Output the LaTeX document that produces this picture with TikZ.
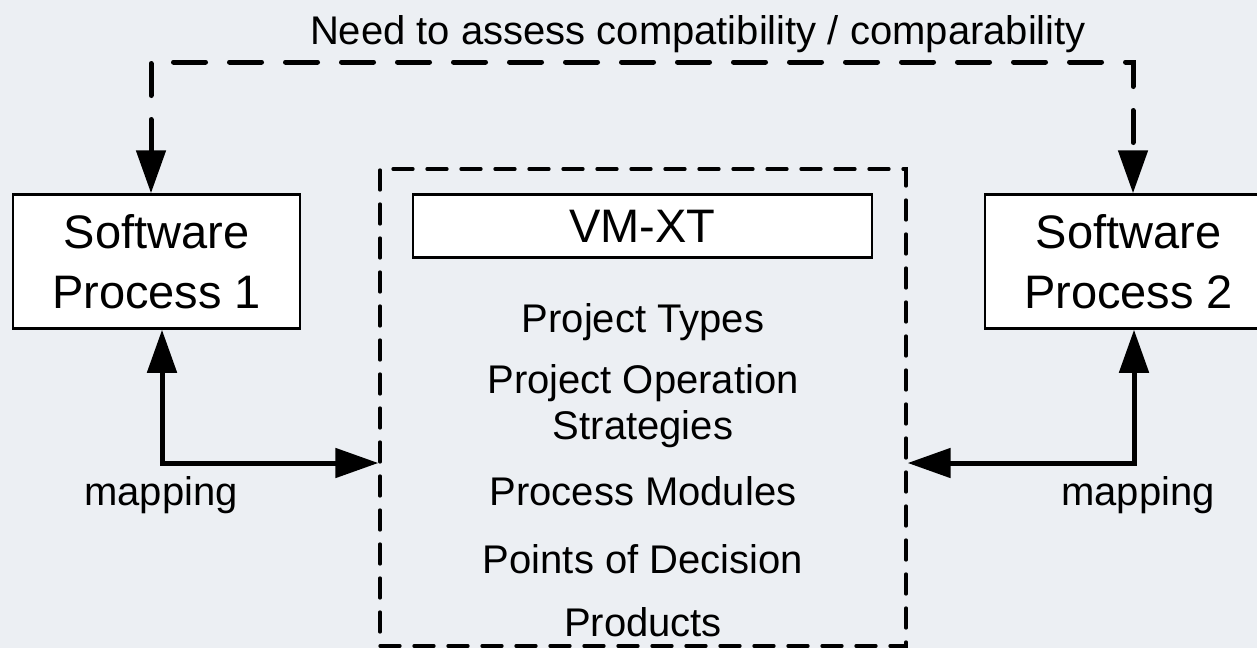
\documentclass[tikz,border=0pt]{standalone}
\usepackage{fontspec}
\setmainfont{Liberation Sans}
\usetikzlibrary{arrows.meta}
\definecolor{bgc}{RGB}{236,239,243}
\tikzset{
  txt/.style={anchor=base, inner sep=0pt, font=\fontsize{40}{46}\selectfont},
  procbox/.style={draw=black, line width=2.5pt, fill=white, minimum width=287pt, minimum height=134pt, inner sep=0pt, align=center, font=\fontsize{47}{60}\selectfont},
  vmbox/.style={draw=black, line width=2.5pt, fill=white, minimum width=459pt, minimum height=63pt, inner sep=0pt, font=\fontsize{47}{56}\selectfont},
  groupbox/.style={draw=black, line width=3.3pt, dash pattern=on 20pt off 14pt, line cap=round, minimum width=526pt, minimum height=477pt, inner sep=0pt},
  conn/.style={line width=5pt, {Triangle[length=43pt,width=29pt]}-{Triangle[length=43pt,width=29pt]}},
  dconn/.style={conn, dash pattern=on 32pt off 24pt, line cap=round},
}
\begin{document}
\begin{tikzpicture}[x=1pt,y=-1pt]
\fill[bgc] (0,0) rectangle (1257,648);
\clip (0,0) rectangle (1257,648);
\node[procbox] (sp1) at (156.5,261.5) {Software\\Process 1};
\node[procbox] (sp2) at (1128.5,261.5) {Software\\Process 2};
\node[groupbox] (grp) at (643,407.5) {};
\node[vmbox] (vm) at (642.5,226) {VM-XT};
\node[txt] (title) at (698,44) {Need to assess compatibility / comparability};
\node[txt] (t1) at (643,332) {Project Types};
\node[txt] (t2) at (643,393) {Project Operation};
\node[txt] (t3) at (643,439) {Strategies};
\node[txt] (t4) at (643,505) {Process Modules};
\node[txt] (t5) at (643,573) {Points of Decision};
\node[txt] (t6) at (643,636) {Products};
\node[txt] (m1) at (161,505) {mapping};
\node[txt] (m2) at (1138,505) {mapping};
\coordinate (tl) at (151,62);
\coordinate (tr) at (1133,62);
\draw[dconn] (tl |- sp1.north) -- (tl) -- (tr) -- (tr |- sp2.north);
\coordinate (ml) at (162,463);
\coordinate (mr) at (1134,463);
\draw[conn] (ml |- sp1.south) -- (ml) -- (grp.west |- ml);
\draw[conn] (mr |- sp2.south) -- (mr) -- (grp.east |- mr);
\end{tikzpicture}
\end{document}
